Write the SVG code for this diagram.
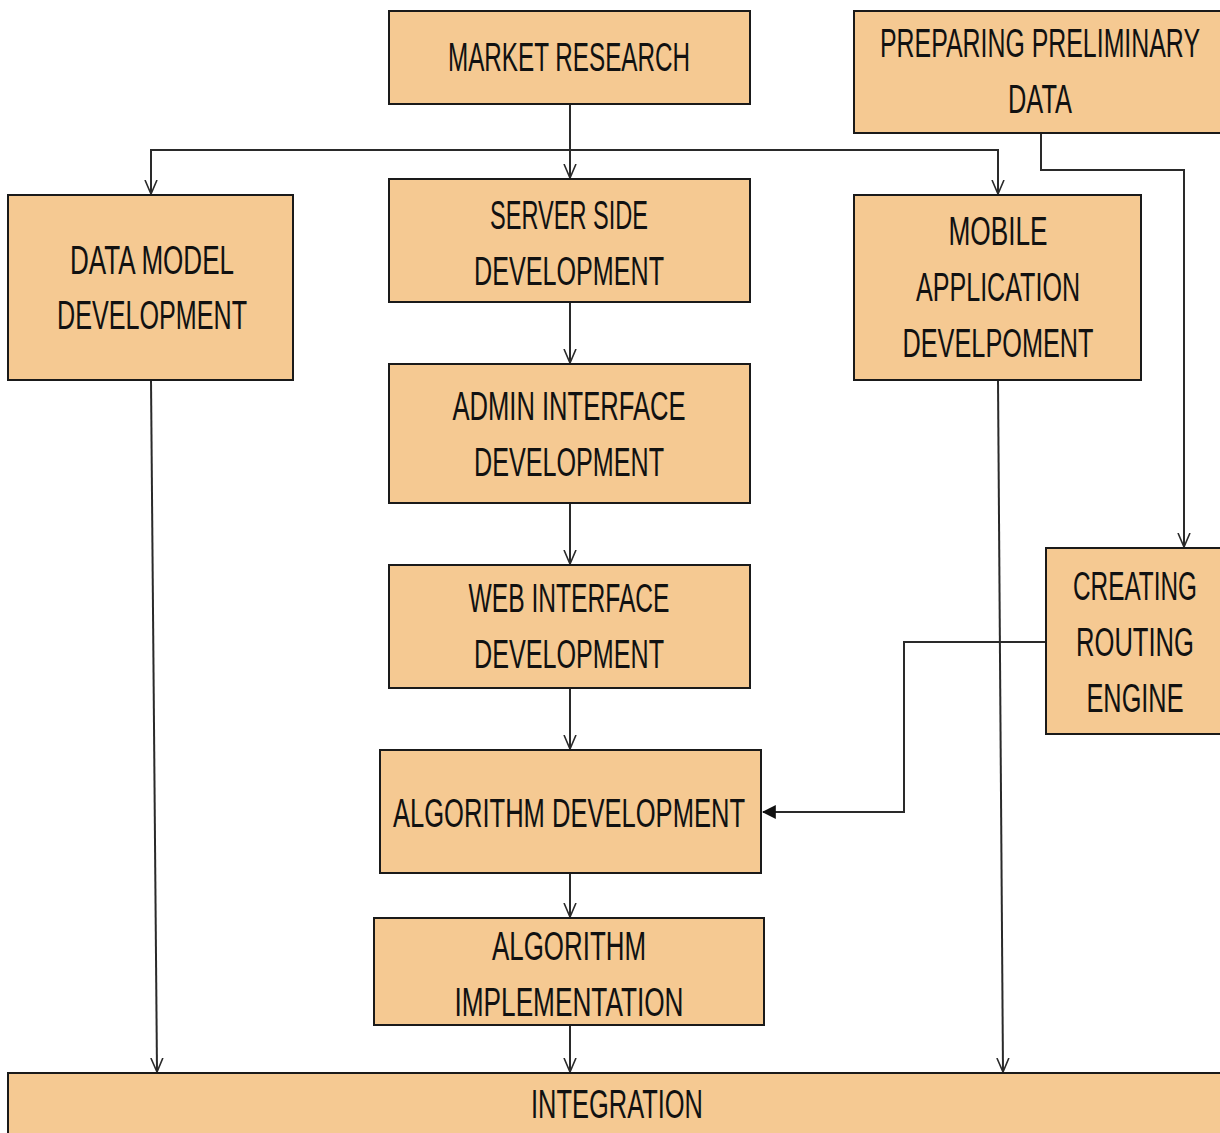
<svg xmlns="http://www.w3.org/2000/svg" width="1220" height="1133" viewBox="0 0 1220 1133">
<defs>
<style>
.box{fill:#F5C992;stroke:#1a1a1a;stroke-width:2}
.t{font-family:"Liberation Sans",Arial,sans-serif;font-size:40px;fill:#111;text-anchor:middle}
.c{fill:none;stroke:#2a2a2a;stroke-width:2}
</style>
<marker id="open" markerUnits="userSpaceOnUse" markerWidth="16" markerHeight="18" refX="14" refY="7" orient="auto" viewBox="0 0 16 14">
<path d="M0,1 L14,7 L0,13" fill="none" stroke="#2a2a2a" stroke-width="1.6"/>
</marker>
<marker id="fill" markerUnits="userSpaceOnUse" markerWidth="14" markerHeight="14" refX="11" refY="6" orient="auto" viewBox="0 0 12 12">
<path d="M0,0 L12,6 L0,12 Z" fill="#111"/>
</marker>
</defs>
<rect width="1220" height="1133" fill="#fff"/>
<g id="connectors">
<path class="c" d="M570,104 V178" marker-end="url(#open)"/>
<path class="c" d="M151,195 V150 H998 V194" marker-end="url(#open)"/>
<path class="c" d="M151,151 V194" marker-end="url(#open)"/>
<path class="c" d="M1041,133 V170 H1184 V547" marker-end="url(#open)"/>
<path class="c" d="M151,380 L157,1072" marker-end="url(#open)"/>
<path class="c" d="M998,380 L1003,1072" marker-end="url(#open)"/>
<path class="c" d="M570,302 V363" marker-end="url(#open)"/>
<path class="c" d="M570,503 V564" marker-end="url(#open)"/>
<path class="c" d="M570,688 V749" marker-end="url(#open)"/>
<path class="c" d="M1046,642 H904 V812 H763" marker-end="url(#fill)"/>
<path class="c" d="M570,873 V917" marker-end="url(#open)"/>
<path class="c" d="M570,1025 V1072" marker-end="url(#open)"/>
</g>
<g id="market-research">
<rect class="box" x="389" y="11" width="361" height="93"/>
<text class="t" x="569" y="71" textLength="242" lengthAdjust="spacingAndGlyphs">MARKET RESEARCH</text>
</g>
<g id="preparing-preliminary-data">
<rect class="box" x="854" y="11" width="370" height="122"/>
<text class="t" x="1040" y="57" textLength="320" lengthAdjust="spacingAndGlyphs">PREPARING PRELIMINARY</text>
<text class="t" x="1040" y="113" textLength="64" lengthAdjust="spacingAndGlyphs">DATA</text>
</g>
<g id="data-model-development">
<rect class="box" x="8" y="195" width="285" height="185"/>
<text class="t" x="152" y="274" textLength="164" lengthAdjust="spacingAndGlyphs">DATA MODEL</text>
<text class="t" x="152" y="329" textLength="190" lengthAdjust="spacingAndGlyphs">DEVELOPMENT</text>
</g>
<g id="server-side-development">
<rect class="box" x="389" y="179" width="361" height="123"/>
<text class="t" x="569" y="229" textLength="158" lengthAdjust="spacingAndGlyphs">SERVER SIDE</text>
<text class="t" x="569" y="285" textLength="190" lengthAdjust="spacingAndGlyphs">DEVELOPMENT</text>
</g>
<g id="mobile-application-development">
<rect class="box" x="854" y="195" width="287" height="185"/>
<text class="t" x="998" y="245" textLength="99" lengthAdjust="spacingAndGlyphs">MOBILE</text>
<text class="t" x="998" y="301" textLength="164" lengthAdjust="spacingAndGlyphs">APPLICATION</text>
<text class="t" x="998" y="357" textLength="191" lengthAdjust="spacingAndGlyphs">DEVELPOMENT</text>
</g>
<g id="admin-interface-development">
<rect class="box" x="389" y="364" width="361" height="139"/>
<text class="t" x="569" y="420" textLength="233" lengthAdjust="spacingAndGlyphs">ADMIN INTERFACE</text>
<text class="t" x="569" y="476" textLength="190" lengthAdjust="spacingAndGlyphs">DEVELOPMENT</text>
</g>
<g id="web-interface-development">
<rect class="box" x="389" y="565" width="361" height="123"/>
<text class="t" x="569" y="612" textLength="201" lengthAdjust="spacingAndGlyphs">WEB INTERFACE</text>
<text class="t" x="569" y="668" textLength="190" lengthAdjust="spacingAndGlyphs">DEVELOPMENT</text>
</g>
<g id="creating-routing-engine">
<rect class="box" x="1046" y="548" width="178" height="186"/>
<text class="t" x="1135" y="600" textLength="124" lengthAdjust="spacingAndGlyphs">CREATING</text>
<text class="t" x="1135" y="656" textLength="118" lengthAdjust="spacingAndGlyphs">ROUTING</text>
<text class="t" x="1135" y="712" textLength="97" lengthAdjust="spacingAndGlyphs">ENGINE</text>
</g>
<g id="algorithm-development">
<rect class="box" x="380" y="750" width="381" height="123"/>
<text class="t" x="569" y="827" textLength="352" lengthAdjust="spacingAndGlyphs">ALGORITHM DEVELOPMENT</text>
</g>
<g id="algorithm-implementation">
<rect class="box" x="374" y="918" width="390" height="107"/>
<text class="t" x="569" y="960" textLength="154" lengthAdjust="spacingAndGlyphs">ALGORITHM</text>
<text class="t" x="569" y="1016" textLength="229" lengthAdjust="spacingAndGlyphs">IMPLEMENTATION</text>
</g>
<g id="integration">
<rect class="box" x="8" y="1073" width="1220" height="70"/>
<text class="t" x="617" y="1118" textLength="172" lengthAdjust="spacingAndGlyphs">INTEGRATION</text>
</g>
</svg>
